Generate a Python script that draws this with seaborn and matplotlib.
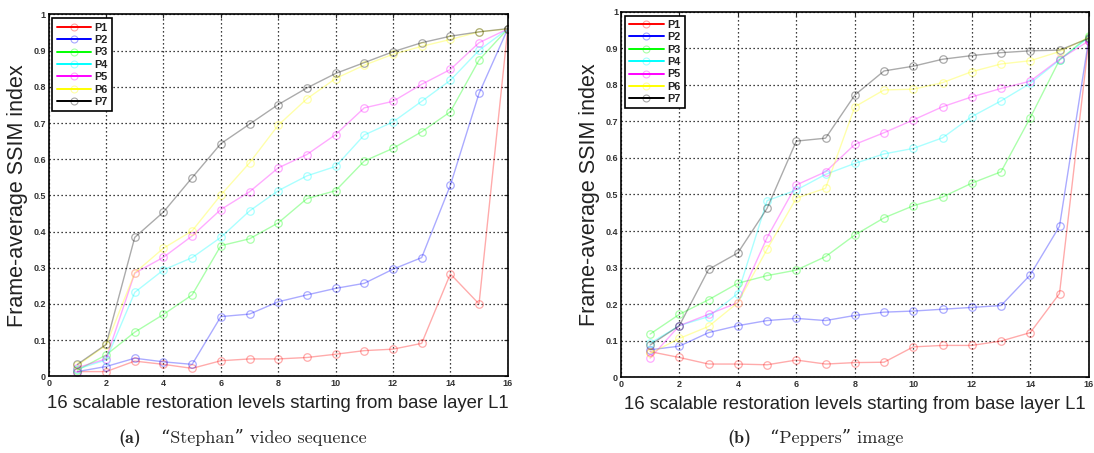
import numpy as np
import pandas as pd
import matplotlib
matplotlib.use("Agg")
import matplotlib.pyplot as plt
from matplotlib.lines import Line2D
import seaborn as sns

levels = list(range(1, 17))
names = ["P1", "P2", "P3", "P4", "P5", "P6", "P7"]
colors = ["#ff0000", "#0000ff", "#00ff00", "#00ffff", "#ff00ff", "#ffff00", "#000000"]

# (a) "Stephan" video sequence
stephan_p1 = [0.013, 0.013, 0.042, 0.033, 0.022, 0.043, 0.048, 0.048, 0.052, 0.061, 0.071, 0.075, 0.091, 0.283, 0.200, 0.960]
stephan_p2 = [0.013, 0.027, 0.050, 0.040, 0.033, 0.165, 0.172, 0.206, 0.225, 0.243, 0.257, 0.296, 0.328, 0.528, 0.782, 0.960]
stephan_p3 = [0.017, 0.059, 0.122, 0.171, 0.225, 0.361, 0.380, 0.424, 0.491, 0.513, 0.595, 0.630, 0.676, 0.731, 0.874, 0.960]
stephan_p4 = [0.020, 0.045, 0.232, 0.294, 0.328, 0.384, 0.457, 0.513, 0.554, 0.580, 0.667, 0.703, 0.760, 0.818, 0.901, 0.960]
stephan_p5 = [0.024, 0.048, 0.285, 0.329, 0.388, 0.461, 0.510, 0.576, 0.613, 0.668, 0.742, 0.760, 0.807, 0.848, 0.922, 0.960]
stephan_p6 = [0.030, 0.086, 0.286, 0.354, 0.402, 0.501, 0.590, 0.694, 0.767, 0.823, 0.860, 0.890, 0.912, 0.931, 0.952, 0.960]
stephan_p7 = [0.033, 0.088, 0.384, 0.454, 0.549, 0.643, 0.697, 0.751, 0.797, 0.837, 0.867, 0.897, 0.922, 0.940, 0.952, 0.961]

# (b) "Peppers" image
peppers_p1 = [0.070, 0.054, 0.036, 0.036, 0.034, 0.047, 0.036, 0.040, 0.041, 0.083, 0.087, 0.087, 0.099, 0.122, 0.229, 0.920]
peppers_p2 = [0.075, 0.085, 0.122, 0.141, 0.155, 0.161, 0.155, 0.169, 0.178, 0.181, 0.186, 0.191, 0.196, 0.280, 0.413, 0.925]
peppers_p3 = [0.118, 0.172, 0.212, 0.257, 0.278, 0.293, 0.330, 0.389, 0.436, 0.469, 0.493, 0.531, 0.562, 0.710, 0.868, 0.933]
peppers_p4 = [0.093, 0.141, 0.166, 0.229, 0.483, 0.512, 0.555, 0.585, 0.611, 0.626, 0.655, 0.713, 0.756, 0.804, 0.868, 0.930]
peppers_p5 = [0.052, 0.141, 0.172, 0.204, 0.382, 0.526, 0.562, 0.637, 0.669, 0.704, 0.740, 0.767, 0.790, 0.810, 0.870, 0.920]
peppers_p6 = [0.065, 0.106, 0.139, 0.204, 0.350, 0.490, 0.517, 0.740, 0.786, 0.788, 0.806, 0.836, 0.857, 0.866, 0.891, 0.930]
peppers_p7 = [0.088, 0.141, 0.295, 0.340, 0.462, 0.646, 0.654, 0.772, 0.838, 0.851, 0.870, 0.880, 0.888, 0.893, 0.895, 0.927]

panels = [
    ([stephan_p1, stephan_p2, stephan_p3, stephan_p4, stephan_p5, stephan_p6, stephan_p7],
     "(a)", "\u201cStephan\u201d video sequence"),
    ([peppers_p1, peppers_p2, peppers_p3, peppers_p4, peppers_p5, peppers_p6, peppers_p7],
     "(b)", "\u201cPeppers\u201d image"),
]

xticks = list(range(0, 17, 2))
yticks = [0, 0.1, 0.2, 0.3, 0.4, 0.5, 0.6, 0.7, 0.8, 0.9, 1]
ytick_labels = ["0", "0.1", "0.2", "0.3", "0.4", "0.5", "0.6", "0.7", "0.8", "0.9", "1"]
xlabel = "16 scalable restoration levels starting from base layer L1"
ylabel = "Frame-average SSIM index"

sns.set_style("white")
plt.rcParams["font.family"] = ["Liberation Sans", "DejaVu Sans"]

fig = plt.figure(figsize=(10.94, 4.53), dpi=100)
rects = [[0.0445, 0.1693, 0.4196, 0.7987], [0.5675, 0.1673, 0.4277, 0.8068]]
tag_x = [118 / 1094, 727 / 1094]

for rect, (series, tag, caption), tx in zip(rects, panels, tag_x):
    ax = fig.add_axes(rect)
    rows = []
    for name, vals in zip(names, series):
        for lv, v in zip(levels, vals):
            rows.append({"level": lv, "ssim": v, "curve": name})
    df = pd.DataFrame(rows)
    for name, col in zip(names, colors):
        sub = df[df["curve"] == name]
        sns.lineplot(data=sub, x="level", y="ssim", ax=ax, color=col, lw=1.0,
                     alpha=0.33, marker="o", markersize=5.4, markerfacecolor="none",
                     markeredgecolor=col, markeredgewidth=0.9, legend=False)
    ax.set_xlim(0, 16)
    ax.set_ylim(0, 1)
    ax.set_xticks(xticks)
    ax.set_xticklabels([str(t) for t in xticks])
    ax.set_yticks(yticks)
    ax.set_yticklabels(ytick_labels)
    ax.tick_params(axis="both", direction="in", length=3, width=0.8, labelsize=6.5,
                   labelcolor="#333333", pad=2, top=True, right=True)
    for lab in ax.get_xticklabels() + ax.get_yticklabels():
        lab.set_fontweight("bold")
    ax.grid(True, color="black", linestyle=(0, (1, 2.2)), linewidth=0.9)
    for sp in ax.spines.values():
        sp.set_color("black")
        sp.set_linewidth(1.2)
    ax.set_xlabel(xlabel, fontsize=13.3, color="#222222", labelpad=5)
    ax.set_ylabel(ylabel, fontsize=15.5, color="#222222", labelpad=4)

    handles = [Line2D([0], [0], color=c, lw=1.4, marker="o", markersize=5,
                      markerfacecolor="none",
                      markeredgecolor=matplotlib.colors.to_rgba(c, 0.35),
                      markeredgewidth=0.8) for c in colors]
    leg = ax.legend(handles, names, loc="upper left", fontsize=7.8, frameon=True,
                    fancybox=False, framealpha=1, edgecolor="black", handlelength=3.2,
                    handletextpad=0.3, borderpad=0.4, labelspacing=0.22,
                    borderaxespad=0.35)
    leg.get_frame().set_linewidth(1.2)
    for t in leg.get_texts():
        t.set_fontweight("bold")
        t.set_color("#222222")

    fig.text(tx, 0.022, tag, fontsize=13, ha="left", va="baseline",
             family=["cmb10", "DejaVu Serif"])
    fig.text(tx + 0.039, 0.022, caption, fontsize=13, ha="left", va="baseline",
             family=["cmr10", "DejaVu Serif"])

fig.savefig("out.png", dpi=100)
